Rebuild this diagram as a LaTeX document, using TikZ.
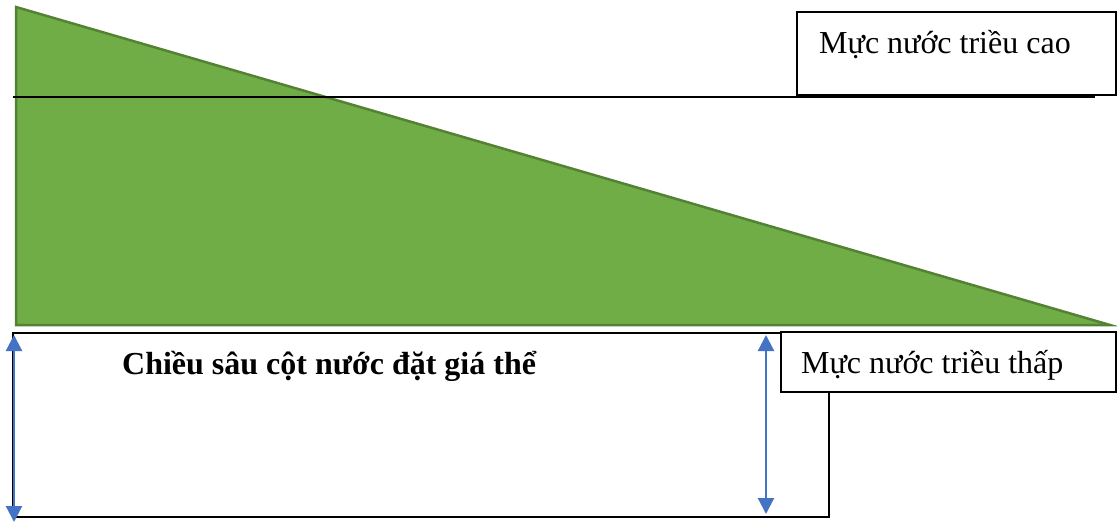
\documentclass[tikz,border=0pt]{standalone}
\usepackage{fontspec}
\setmainfont{Liberation Serif}
\usetikzlibrary{arrows.meta}
\definecolor{grfill}{HTML}{70AD47}
\definecolor{grline}{HTML}{548235}
\definecolor{arrblue}{HTML}{4472C4}
\tikzset{
  boxline/.style={draw=black, line width=1.5pt},
  label/.style={font=\fontsize{32}{36}\selectfont, anchor=base west, inner sep=0pt},
  dimarrow/.style={draw=arrblue, line width=2.2pt, {Triangle[length=16pt,width=16pt]}-{Triangle[length=16pt,width=16pt]}}
}
\begin{document}
\begin{tikzpicture}[x=1pt,y=-1pt]
\useasboundingbox (0,0) rectangle (1117,524);
% triangle
\fill[grfill, draw=grline, line width=2.5pt, line join=miter] (16,7) -- (16,325) -- (1110,325) -- cycle;
% high tide line
\draw[black, line width=1.2pt] (13,97) -- (1095,97);
% high tide box
\draw[boxline] (797,12) rectangle (1116,95);
\node[label] (hi) at (819,54) {Mực nước triều cao};
% big rectangle
\draw[boxline] (13,333) rectangle (829,517);
% low tide box
\fill[white] (781,332) rectangle (1116,392);
\draw[boxline] (781,332) rectangle (1116,392);
\node[label] (lo) at (801,373) {Mực nước triều thấp};
% bold label
\node[label, font=\fontsize{32}{36}\selectfont\bfseries] (depth) at (122,374) {Chiều sâu cột nước đặt giá thể};
% dimension arrows
\coordinate (l1) at (14,335);
\coordinate (l2) at (14,522);
\coordinate (r1) at (766,335);
\coordinate (r2) at (766,514);
\draw[dimarrow] (l1) -- (l2);
\draw[dimarrow] (r1) -- (r2);
\end{tikzpicture}
\end{document}
